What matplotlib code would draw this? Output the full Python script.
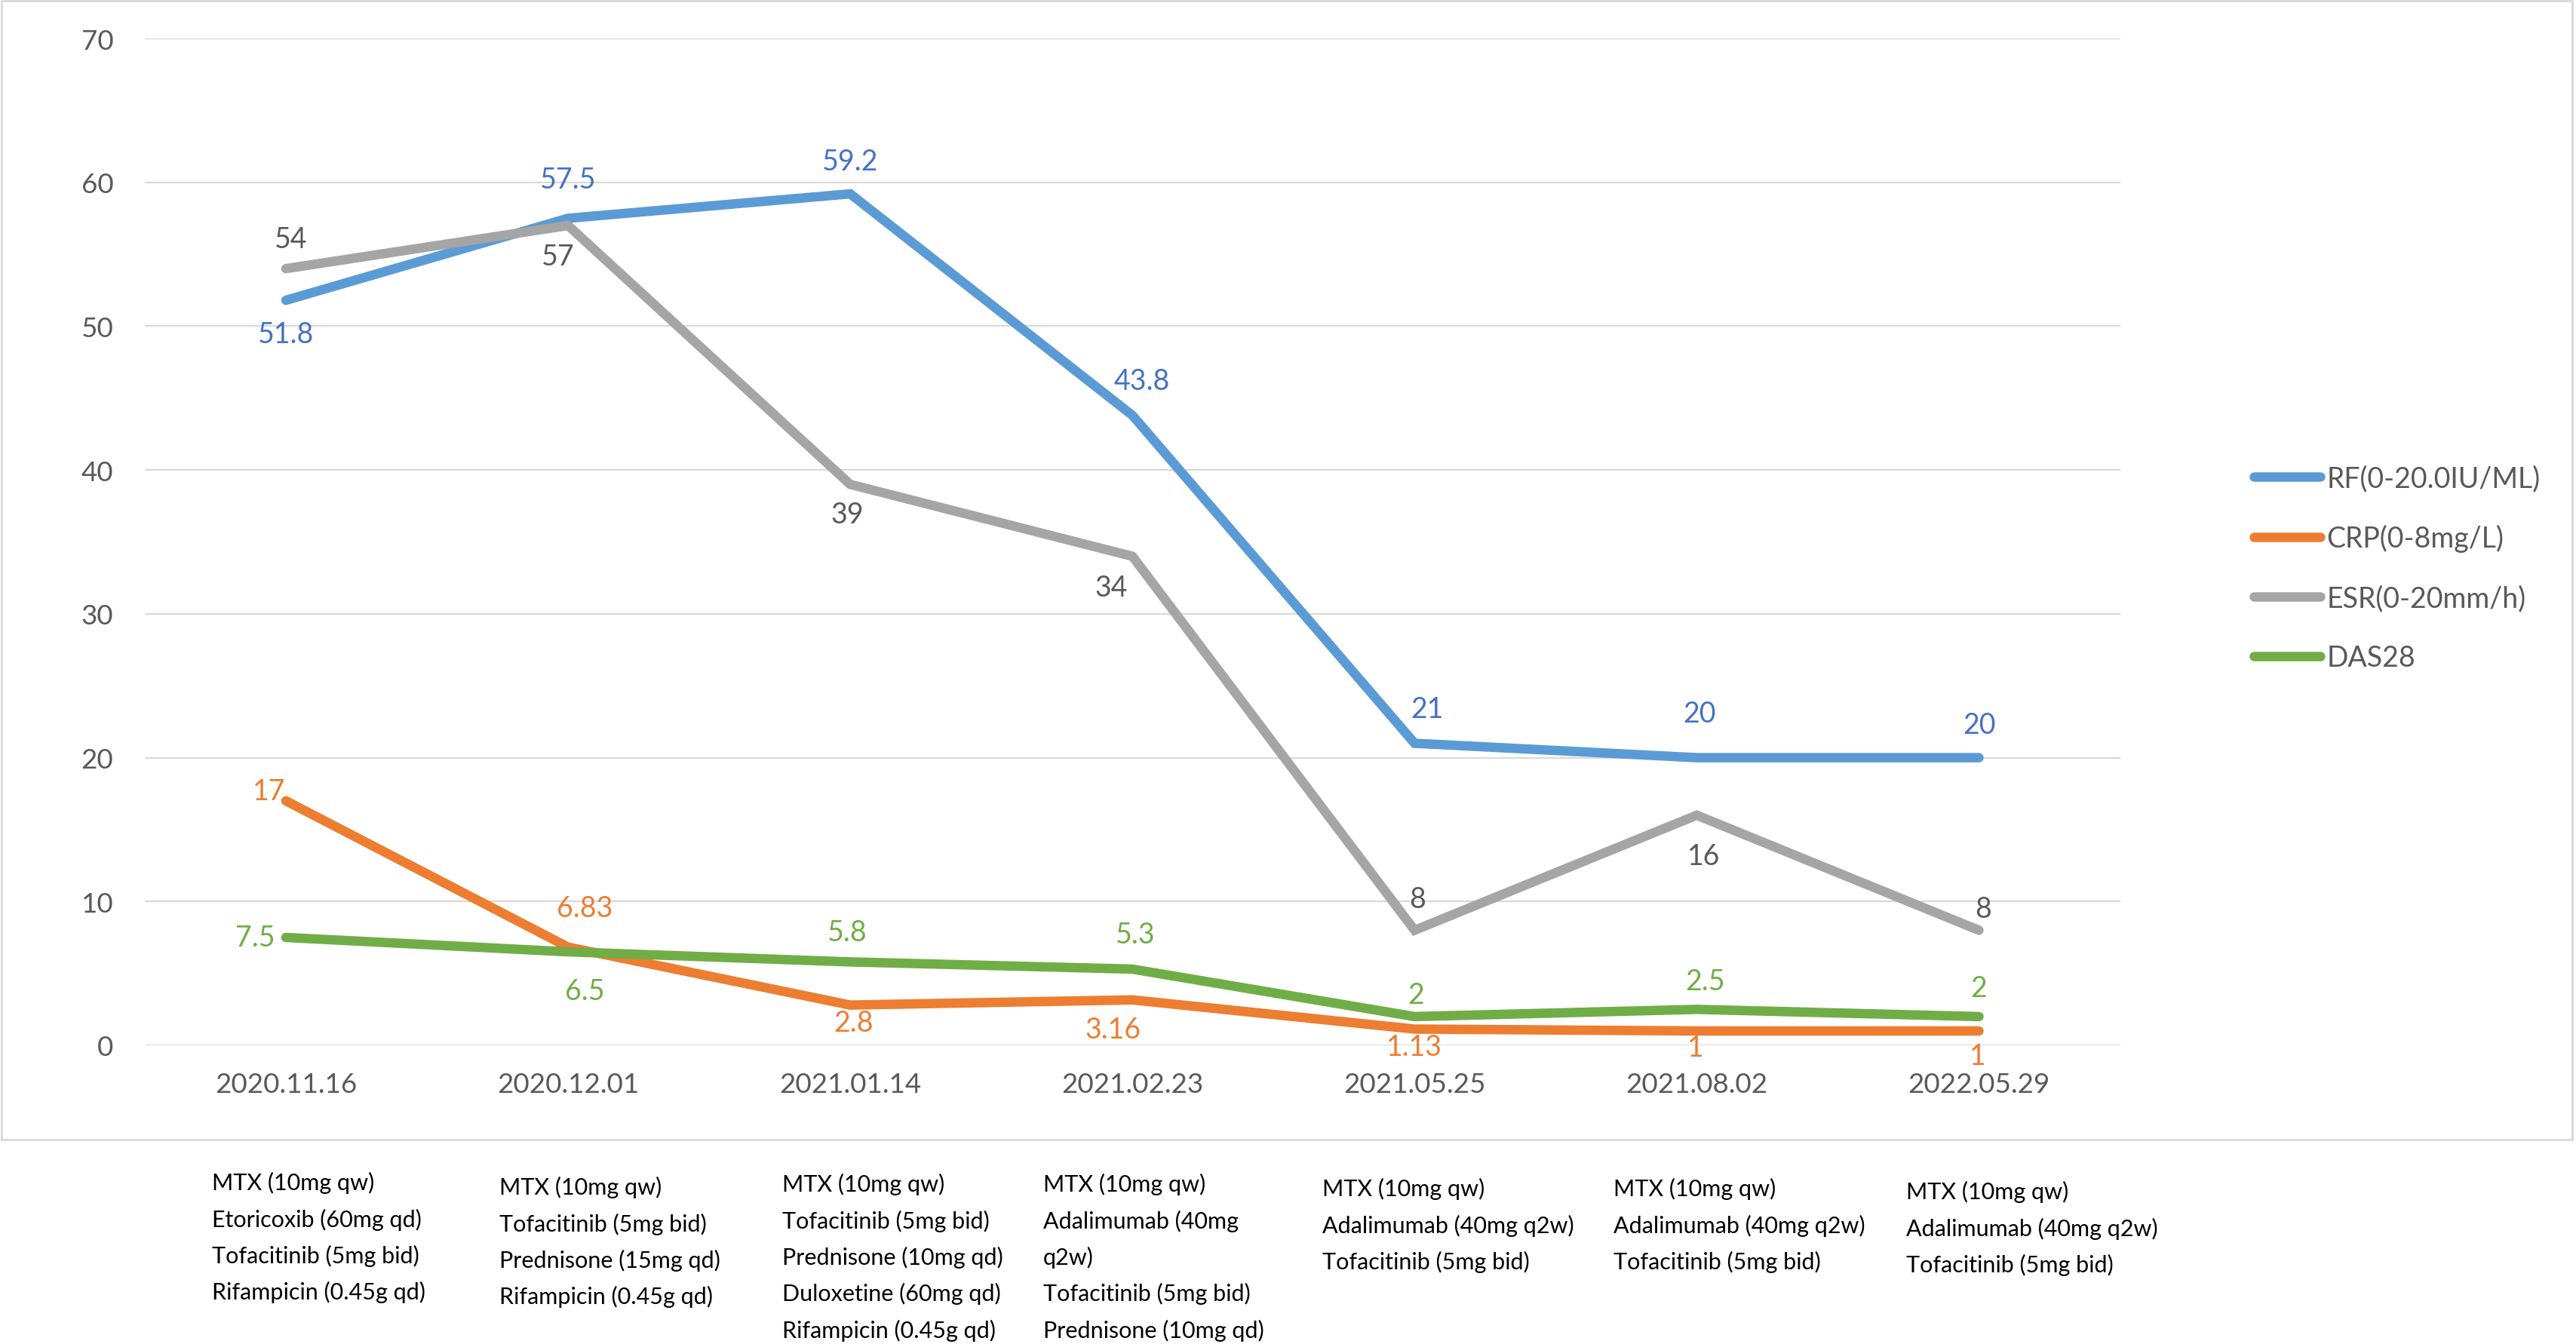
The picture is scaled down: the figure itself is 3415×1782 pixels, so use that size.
import matplotlib
matplotlib.use('Agg')
import matplotlib.pyplot as plt
from matplotlib.patches import Rectangle

plt.rcParams['font.family'] = ['Lato', 'DejaVu Sans']

dates = ['2020.11.16', '2020.12.01', '2021.01.14', '2021.02.23',
         '2021.05.25', '2021.08.02', '2022.05.29']
rf = [51.8, 57.5, 59.2, 43.8, 21, 20, 20]
crp = [17, 6.83, 2.8, 3.16, 1.13, 1, 1]
esr = [54, 57, 39, 34, 8, 16, 8]
das28 = [7.5, 6.5, 5.8, 5.3, 2, 2.5, 2]
series_names = ['RF(0-20.0IU/ML)', 'CRP(0-8mg/L)', 'ESR(0-20mm/h)', 'DAS28']

meds = [
    ['MTX (10mg qw)', 'Etoricoxib (60mg qd)', 'Tofacitinib (5mg bid)', 'Rifampicin (0.45g qd)'],
    ['MTX (10mg qw)', 'Tofacitinib (5mg bid)', 'Prednisone (15mg qd)', 'Rifampicin (0.45g qd)'],
    ['MTX (10mg qw)', 'Tofacitinib (5mg bid)', 'Prednisone (10mg qd)', 'Duloxetine (60mg qd)',
     'Rifampicin (0.45g qd)'],
    ['MTX (10mg qw)', 'Adalimumab (40mg', 'q2w)', 'Tofacitinib (5mg bid)', 'Prednisone (10mg qd)'],
    ['MTX (10mg qw)', 'Adalimumab (40mg q2w)', 'Tofacitinib (5mg bid)'],
    ['MTX (10mg qw)', 'Adalimumab (40mg q2w)', 'Tofacitinib (5mg bid)'],
    ['MTX (10mg qw)', 'Adalimumab (40mg q2w)', 'Tofacitinib (5mg bid)'],
]

# label offsets in pixels (dx, dy)
rf_off = [(0, -45), (0, 51), (0, 43), (13, 46), (17, 46), (4, 59), (0, 44)]
crp_off = [(-22, 13), (22, 52), (4, -23), (-26, -39), (0, -24), (-2, -22), (-2, -33)]
esr_off = [(7, 39), (-13, -41), (-4, -40), (-28, -41), (4, 41), (9, -54), (6, 28)]
das_off = [(-41, 0), (22, -52), (-4, 39), (4, 46), (2, 29), (11, 37), (0, 38)]

line_cols = ['#5B9BD5', '#ED7D31', '#A5A5A5', '#70AD47']
lab_cols = ['#4472C4', '#ED7D31', '#595959', '#70AD47']
txt = '#595959'

fig = plt.figure(figsize=(34.15, 17.83), dpi=100)
fig.patches.append(Rectangle((0.0005, 0.152), 0.998, 0.847, transform=fig.transFigure,
                             fill=False, edgecolor='#D9D9D9', linewidth=2))
ax = fig.add_axes([0.0562, 0.2221, 0.823 - 0.0562, 0.9708 - 0.2221])

x = list(range(len(dates)))
all_series = [rf, crp, esr, das28]
all_off = [rf_off, crp_off, esr_off, das_off]
for vals, name, lc, tc, offs in zip(all_series, series_names, line_cols, lab_cols, all_off):
    ax.plot(x, vals, color=lc, linewidth=9, label=name,
            solid_capstyle='round', solid_joinstyle='miter', zorder=3)
    for xi, v, (dx, dy) in zip(x, vals, offs):
        ax.annotate(f'{v:g}', (xi, v), xytext=(dx, dy), textcoords='offset pixels',
                    ha='center', va='center', fontsize=27, color=tc, zorder=4)

ax.set_xlim(-0.5, 6.5)
ax.set_ylim(0, 70)
ax.set_yticks(range(0, 71, 10))
ax.set_xticks(x)
ax.set_xticklabels(dates)
ax.yaxis.grid(True, color='#D9D9D9', linewidth=1.6, zorder=0)
ax.set_axisbelow(True)
for s in ax.spines.values():
    s.set_visible(False)
ax.tick_params(axis='both', length=0, labelsize=26.5, labelcolor=txt)
ax.tick_params(axis='y', pad=30)
ax.tick_params(axis='x', pad=25)

fig.legend(loc='center left', bbox_to_anchor=(0.875, 0.577), frameon=False,
           fontsize=27, labelcolor=txt, handlelength=2.35, handletextpad=0.22,
           labelspacing=1.15, borderpad=0, borderaxespad=0)

col_x = [281, 662, 1037, 1383, 1753, 2139, 2527]
col_y = [1554, 1560, 1556, 1556, 1562, 1562, 1566]
for cx, cy, lines in zip(col_x, col_y, meds):
    fig.text(cx / 3415, 1 - cy / 1783, '\n'.join(lines), ha='left', va='top',
             fontsize=22, color='#000000', linespacing=1.8)

fig.savefig('out.png', dpi=100, facecolor='white')
